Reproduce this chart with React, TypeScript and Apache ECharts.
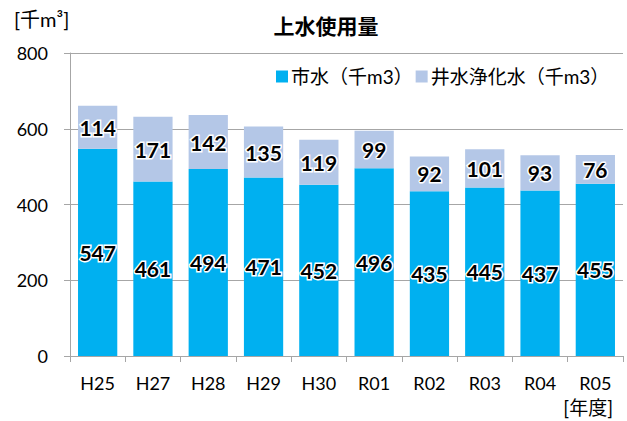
import React, { useEffect, useRef } from "react";
import * as echarts from "echarts";

const categories = ["H25", "H27", "H28", "H29", "H30", "R01", "R02", "R03", "R04", "R05"];
const cityWater = [547, 461, 494, 471, 452, 496, 435, 445, 437, 455];
const wellWater = [114, 171, 142, 135, 119, 99, 92, 101, 93, 76];
const seriesNames = ["市水（千m3）", "井水浄化水（千m3）"];
const yTicks = { min: 0, max: 800, interval: 200 };
const titleText = "上水使用量";
const yUnit = "[千m³]";
const xUnit = "[年度]";

const FONT = "Lato, 'Noto Sans CJK JP', sans-serif";

export default function App() {
  const ref = useRef<HTMLDivElement>(null);
  useEffect(() => {
    document.body.style.margin = "0";
    if (!ref.current) return;
    const chart = echarts.init(ref.current, null, { renderer: "svg" });
    const labelStyle = {
      show: true,
      position: "inside" as const,
      color: "#000",
      fontFamily: FONT,
      fontWeight: "bold" as const,
      fontSize: 21,
      textBorderColor: "#fff",
      textBorderWidth: 3,
    };
    chart.setOption({
      animation: false,
      backgroundColor: "#fff",
      textStyle: { fontFamily: FONT },
      title: {
        text: titleText,
        left: 321,
        top: 9,
        textAlign: "center",
        textStyle: { fontFamily: "'Noto Sans CJK JP', sans-serif", fontWeight: "bold", fontSize: 21, color: "#000" },
      },
      legend: {
        left: 276,
        top: 67,
        width: 351,
        padding: 0,
        itemWidth: 12,
        itemHeight: 12,
        itemGap: 3,
        icon: "rect",
        textStyle: { fontFamily: FONT, fontSize: 19, color: "#000", padding: [0, 0, 0, -2] },
        data: seriesNames,
      },
      grid: { left: 70, right: 4, top: 53, bottom: 65 },
      xAxis: {
        type: "category",
        data: categories,
        axisLine: { lineStyle: { color: "#A6A6A6", width: 1 } },
        axisTick: { show: true, length: 6, lineStyle: { color: "#A6A6A6" } },
        axisLabel: { fontFamily: FONT, fontSize: 18, color: "#000", margin: 18 },
      },
      yAxis: {
        type: "value",
        min: yTicks.min,
        max: yTicks.max,
        interval: yTicks.interval,
        axisLine: { show: true, lineStyle: { color: "#A6A6A6", width: 1 } },
        axisTick: { show: true, length: 6, lineStyle: { color: "#A6A6A6" } },
        splitLine: { lineStyle: { color: "#A6A6A6", width: 1 } },
        axisLabel: { fontFamily: FONT, fontSize: 18, color: "#000", margin: 22 },
      },
      graphic: [
        {
          type: "text",
          left: 14,
          top: 9,
          style: { text: yUnit, fontFamily: FONT, fontSize: 20, fill: "#000" },
        },
        {
          type: "text",
          right: 14,
          top: 398,
          style: { text: xUnit, fontFamily: FONT, fontSize: 19, fill: "#000" },
        },
      ],
      series: [
        {
          name: seriesNames[0],
          type: "bar",
          stack: "total",
          data: cityWater,
          barCategoryGap: "29%",
          itemStyle: { color: "#00B0F0" },
          label: labelStyle,
        },
        {
          name: seriesNames[1],
          type: "bar",
          stack: "total",
          data: wellWater,
          barCategoryGap: "29%",
          itemStyle: { color: "#B4C7E7" },
          label: labelStyle,
        },
      ],
    });
    return () => chart.dispose();
  }, []);
  return <div ref={ref} style={{ width: 627, height: 421 }} />;
}
